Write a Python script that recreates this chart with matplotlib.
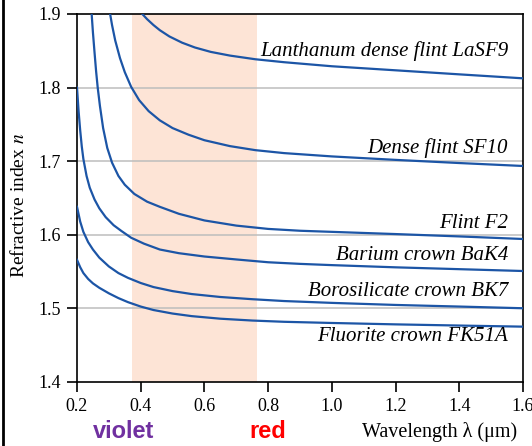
import numpy as np
import matplotlib
matplotlib.use("Agg")
import matplotlib.pyplot as plt
from matplotlib.lines import Line2D

# ============================
# Data (wavelength in um, refractive index)
# ============================
lasf9_wl = [0.405, 0.42, 0.44, 0.46, 0.49, 0.53, 0.57, 0.62, 0.68, 0.76, 0.85, 1.0, 1.2, 1.4, 1.6]
lasf9_n = [1.900, 1.893, 1.885, 1.878, 1.8695, 1.861, 1.8545, 1.8485, 1.8435, 1.8385, 1.8345, 1.829, 1.8235, 1.818, 1.8126]

sf10_wl = [0.304, 0.31, 0.32, 0.335, 0.35, 0.37, 0.395, 0.425, 0.46, 0.5, 0.55, 0.6, 0.68, 0.76, 0.85, 1.0, 1.2, 1.4, 1.6]
sf10_n = [1.900, 1.885, 1.864, 1.840, 1.821, 1.801, 1.783, 1.768, 1.7555, 1.745, 1.736, 1.7285, 1.7205, 1.715, 1.711, 1.7065, 1.7018, 1.6975, 1.6935]

f2_wl = [0.246, 0.25, 0.255, 0.26, 0.265, 0.272, 0.282, 0.295, 0.31, 0.33, 0.35, 0.38, 0.42, 0.46, 0.52, 0.6, 0.7, 0.8, 0.9, 1.0, 1.2, 1.4, 1.6]
f2_n = [1.900, 1.875, 1.848, 1.822, 1.800, 1.775, 1.745, 1.718, 1.698, 1.680, 1.668, 1.6555, 1.645, 1.638, 1.6285, 1.6195, 1.6125, 1.608, 1.6055, 1.604, 1.601, 1.5978, 1.5943]

bak4_wl = [0.2, 0.205, 0.21, 0.215, 0.22, 0.23, 0.24, 0.255, 0.27, 0.29, 0.315, 0.34, 0.37, 0.41, 0.46, 0.52, 0.6, 0.7, 0.8, 0.9, 1.0, 1.2, 1.4, 1.6]
bak4_n = [1.800, 1.768, 1.742, 1.720, 1.703, 1.680, 1.664, 1.648, 1.636, 1.624, 1.613, 1.605, 1.596, 1.588, 1.580, 1.575, 1.5705, 1.5665, 1.5627, 1.5605, 1.5588, 1.5558, 1.5533, 1.5508]

bk7_wl = [0.2, 0.21, 0.22, 0.235, 0.25, 0.27, 0.3, 0.33, 0.36, 0.4, 0.44, 0.5, 0.56, 0.65, 0.75, 0.85, 1.0, 1.2, 1.4, 1.6]
bk7_n = [1.638, 1.618, 1.604, 1.590, 1.580, 1.569, 1.557, 1.548, 1.5415, 1.5345, 1.529, 1.5235, 1.5195, 1.5155, 1.5125, 1.510, 1.5075, 1.5047, 1.5025, 1.5002]

fk51a_wl = [0.2, 0.21, 0.22, 0.235, 0.25, 0.27, 0.3, 0.33, 0.36, 0.4, 0.44, 0.5, 0.56, 0.65, 0.75, 0.85, 1.0, 1.2, 1.4, 1.6]
fk51a_n = [1.566, 1.556, 1.548, 1.540, 1.534, 1.528, 1.5205, 1.514, 1.5085, 1.5025, 1.4978, 1.493, 1.4895, 1.486, 1.4835, 1.4818, 1.4802, 1.4783, 1.4767, 1.4752]

glass_names = ["Lanthanum dense flint LaSF9", "Dense flint SF10", "Flint F2",
               "Barium crown BaK4", "Borosilicate crown BK7", "Fluorite crown FK51A"]
label_n = [1.849, 1.7175, 1.6147, 1.5712, 1.5227, 1.4616]

visible_band = (0.373, 0.764)

# ============================
# Style
# ============================
plt.rcParams["font.family"] = "Liberation Serif"
plt.rcParams["mathtext.fontset"] = "stix"

fig = plt.figure(figsize=(5.32, 4.46), dpi=100)
ax = fig.add_axes([77 / 532, 1 - 382 / 446, 446 / 532, 368 / 446])

line_color = "#1c55a6"

ax.axvspan(*visible_band, color="#fde4d6", zorder=0, lw=0)
for yv in [1.5, 1.6, 1.7, 1.8]:
    ax.axhline(yv, color="#bdbdbd", lw=1.1, zorder=1)

curves = [(lasf9_wl, lasf9_n), (sf10_wl, sf10_n), (f2_wl, f2_n),
          (bak4_wl, bak4_n), (bk7_wl, bk7_n), (fk51a_wl, fk51a_n)]
for (wl, n) in curves:
    ax.plot(wl, n, color=line_color, lw=1.6, zorder=3, solid_joinstyle="round")

for name, yl in zip(glass_names, label_n):
    ax.text(1.553, yl, name, ha="right", va="center", style="italic",
            fontsize=15, zorder=4)

ax.set_xlim(0.2, 1.6)
ax.set_ylim(1.4, 1.9)
ax.set_xticks(np.arange(0.2, 1.61, 0.2))
ax.set_xticklabels(["0.2", "0.4", "0.6", "0.8", "1.0", "1.2", "1.4", "1.6"])
ax.set_yticks([1.4, 1.5, 1.6, 1.7, 1.8, 1.9])
ax.tick_params(direction="out", length=7.5, width=1.2, labelsize=13, pad=4)
for sp in ax.spines.values():
    sp.set_linewidth(1.2)

ax.set_ylabel("Refractive index $\\mathit{n}$", fontsize=14)
ax.yaxis.set_label_coords(-49 / 446, (382 - 205) / 368)

fig.text(362 / 532, 1 - 432 / 446, "Wavelength λ (μm)", fontsize=14.5,
         ha="left", va="center")
fig.text(124 / 532, 1 - 431 / 446, "violet", fontsize=17, fontweight="bold",
         family="Liberation Sans", color="#7030a0", ha="center", va="center")
fig.text(268 / 532, 1 - 432 / 446, "red", fontsize=17, fontweight="bold",
         family="Liberation Sans", color="#ff0000", ha="center", va="center")

# frame edge on the left of the picture
fig.add_artist(Line2D([3 / 532, 3 / 532], [0, 1], color="black", lw=2,
                      transform=fig.transFigure))

plt.savefig("out.png", dpi=100)
plt.close()
